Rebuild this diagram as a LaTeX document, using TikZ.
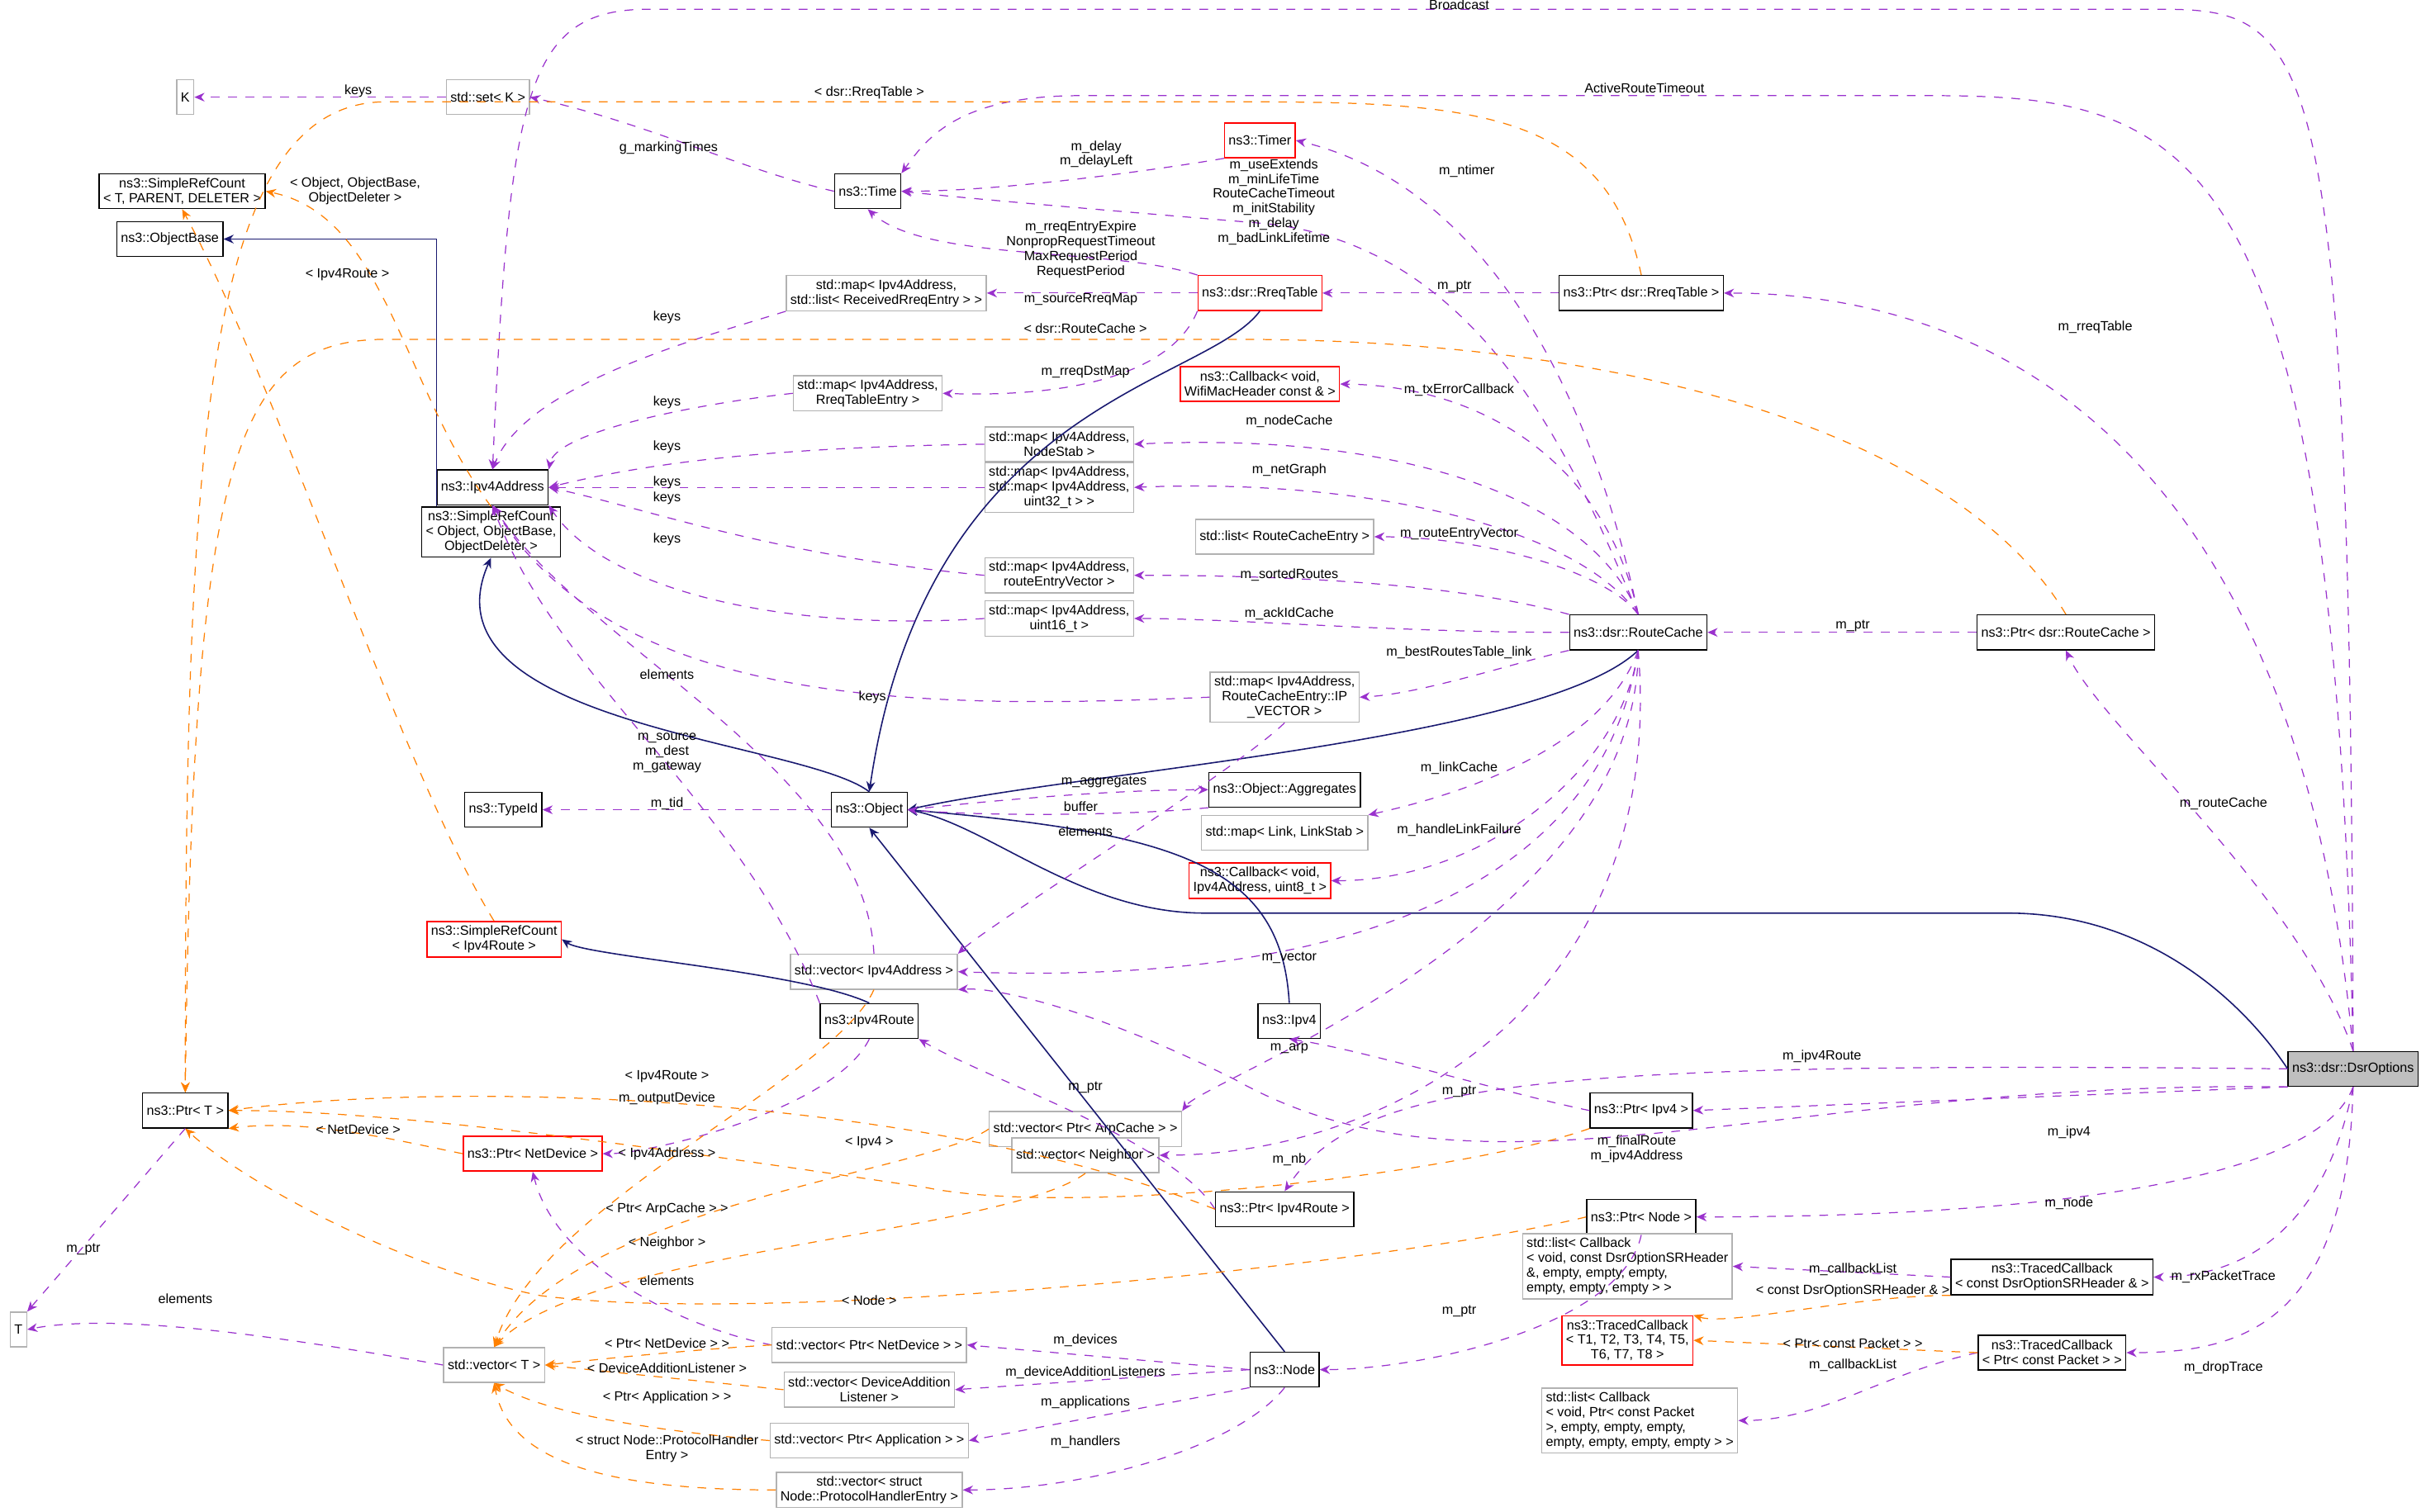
\documentclass[tikz,border=0pt]{standalone}
\usepackage{fontspec}
\setmainfont{Liberation Sans}
\usetikzlibrary{positioning,arrows.meta,calc}

\tikzset{
  cls/.style={draw=black, rectangle, inner sep=1.4pt, minimum height=12, align=center, fill=white, font=\fontsize{4.6}{5.1}\selectfont},
  gcls/.style={cls, draw=black!30},
  rcls/.style={cls, draw=red},
  lbl/.style={inner sep=0.5pt, align=center, font=\fontsize{4.6}{5.1}\selectfont},
  mem/.style={draw={rgb,255:red,154;green,50;blue,205}, dashed, line width=0.35pt, -{Stealth[length=3.5pt,width=3pt]}},
  inh/.style={draw={rgb,255:red,25;green,25;blue,112}, line width=0.45pt, -{Stealth[length=3.5pt,width=3pt]}},
  tpl/.style={draw=orange, dashed, line width=0.35pt, -{Stealth[length=3.5pt,width=3pt]}}
}

\begin{document}
\begin{tikzpicture}[x=0.01869cm,y=-0.01868cm]
  \useasboundingbox (0,0) rectangle (1568,980);
  % classes
  \node[cls, fill=black!25] (dso) at (1524,693) {ns3::dsr::DsrOptions};
  \node[gcls] (k) at (120,63) {K};
  \node[gcls] (setk) at (316,63) {std::set< K >};
  \node[cls] (srct) at (118,124) {ns3::SimpleRefCount\\< T, PARENT, DELETER >};
  \node[cls] (obase) at (110,155) {ns3::ObjectBase};
  \node[cls] (time) at (562,124) {ns3::Time};
  \node[rcls] (timer) at (816,91) {ns3::Timer};
  \node[rcls] (rreq) at (816,190) {ns3::dsr::RreqTable};
  \node[cls] (prq) at (1063,190) {ns3::Ptr< dsr::RreqTable >};
  \node[gcls] (mlist) at (574,190) {std::map< Ipv4Address,\\ std::list< ReceivedRreqEntry > >};
  \node[gcls] (mrte) at (562,255) {std::map< Ipv4Address,\\ RreqTableEntry >};
  \node[rcls] (cbw) at (816,249) {ns3::Callback< void,\\ WifiMacHeader const \& >};
  \node[cls] (ipa) at (319,316) {ns3::Ipv4Address};
  \node[gcls] (mns) at (686,288) {std::map< Ipv4Address,\\ NodeStab >};
  \node[gcls] (mmap) at (686,316) {std::map< Ipv4Address,\\ std::map< Ipv4Address,\\ uint32\_t > >};
  \node[cls] (sro) at (318,345) {ns3::SimpleRefCount\\< Object, ObjectBase,\\ ObjectDeleter >};
  \node[gcls] (lrce) at (832,348) {std::list< RouteCacheEntry >};
  \node[gcls] (mrev) at (686,373) {std::map< Ipv4Address,\\ routeEntryVector >};
  \node[gcls] (mu16) at (686,401) {std::map< Ipv4Address,\\ uint16\_t >};
  \node[cls] (rc) at (1061,410) {ns3::dsr::RouteCache};
  \node[cls] (prc) at (1338,410) {ns3::Ptr< dsr::RouteCache >};
  \node[gcls] (mipv) at (832,452) {std::map< Ipv4Address,\\ RouteCacheEntry::IP\\ \_VECTOR >};
  \node[cls] (tid) at (326,525) {ns3::TypeId};
  \node[cls] (obj) at (563,525) {ns3::Object};
  \node[cls] (agg) at (832,512) {ns3::Object::Aggregates};
  \node[gcls] (mlink) at (832,540) {std::map< Link, LinkStab >};
  \node[rcls] (cbi) at (816,571) {ns3::Callback< void,\\ Ipv4Address, uint8\_t >};
  \node[rcls] (srir) at (320,609) {ns3::SimpleRefCount\\< Ipv4Route >};
  \node[gcls] (vipa) at (566,630) {std::vector< Ipv4Address >};
  \node[cls] (ir) at (563,662) {ns3::Ipv4Route};
  \node[cls] (ipv4) at (835,662) {ns3::Ipv4};
  \node[cls] (ptrt) at (120,720) {ns3::Ptr< T >};
  \node[cls] (pipv4) at (1063,720) {ns3::Ptr< Ipv4 >};
  \node[rcls] (pnd) at (345,748) {ns3::Ptr< NetDevice >};
  \node[gcls] (varp) at (703,732) {std::vector< Ptr< ArpCache > >};
  \node[gcls] (vnb) at (703,749) {std::vector< Neighbor >};
  \node[cls] (pir) at (832,784) {ns3::Ptr< Ipv4Route >};
  \node[cls] (pnode) at (1063,789) {ns3::Ptr< Node >};
  \node[gcls, align=left] (lsr) at (1054,821) {std::list< Callback\\< void, const DsrOptionSRHeader\\ \&, empty, empty, empty,\\ empty, empty, empty > >};
  \node[cls] (tcsr) at (1329,828) {ns3::TracedCallback\\< const DsrOptionSRHeader \& >};
  \node[rcls] (tct) at (1054,869) {ns3::TracedCallback\\< T1, T2, T3, T4, T5,\\ T6, T7, T8 >};
  \node[cls] (tcpk) at (1329,877) {ns3::TracedCallback\\< Ptr< const Packet > >};
  \node[gcls, align=left] (lpk) at (1062,921) {std::list< Callback\\< void, Ptr< const Packet\\ >, empty, empty, empty,\\ empty, empty, empty, empty > >};
  \node[gcls] (t) at (12,862) {T};
  \node[gcls] (vt) at (320,885) {std::vector< T >};
  \node[gcls] (vnd) at (563,872) {std::vector< Ptr< NetDevice > >};
  \node[cls] (node) at (832,888) {ns3::Node};
  \node[gcls] (vdal) at (563,901) {std::vector< DeviceAddition\\ Listener >};
  \node[gcls] (vapp) at (563,934) {std::vector< Ptr< Application > >};
  \node[gcls] (vphe) at (563,966) {std::vector< struct\\ Node::ProtocolHandlerEntry >};

  % inheritance
  \draw[inh] (sro.north west) ++(10,0) |- (obase.east);
  \draw[inh] (obj.north) .. controls (520,480) and (270,470) .. (sro.south);
  \draw[inh] (rreq.south) .. controls (780,250) and (600,260) .. (obj.north);
  \draw[inh] (rc.south) .. controls (1000,480) and (700,500) .. (obj.east);
  \draw[inh] (ipv4.north) .. controls (830,560) and (760,540) .. (obj.east);
  \draw[inh] (node.north) -- (obj.south);
  \draw[inh] (ir.north) .. controls (520,630) and (380,620) .. (srir.east);
  \draw[inh] (dso.west) .. controls (1460,660) and (1400,592) .. (1300,592)
    -- (780,592) .. controls (700,592) and (640,535) .. (obj.east);

  % members of DsrOptions
  \draw[mem] (dso.north) .. controls (1522,30) and (1500,6) .. (1400,6)
    -- (420,6) .. controls (340,6) and (330,60) .. (ipa.north);
  \node[lbl] (lb1) at (945,3) {Broadcast};
  \draw[mem] (dso.north) .. controls (1512,90) and (1420,62) .. (1250,62)
    -- (700,62) .. controls (620,62) and (600,90) .. (time.north east);
  \node[lbl] (lb2) at (1065,57) {ActiveRouteTimeout};
  \draw[mem] (dso.north) .. controls (1490,300) and (1300,190) .. (prq.east);
  \node[lbl] (lb3) at (1357,212) {m\_rreqTable};
  \draw[mem] (dso.north) .. controls (1490,580) and (1360,470) .. (prc.south);
  \node[lbl] (lb4) at (1440,521) {m\_routeCache};
  \draw[mem] (dso.west) .. controls (1000,688) and (880,700) .. (pir.north);
  \node[lbl] (lb5) at (1180,685) {m\_ipv4Route};
  \draw[mem] (dso.south west) -- (pipv4.east);
  \node[lbl] (lb6) at (1340,734) {m\_ipv4};
  \draw[mem] (dso.south west) .. controls (1150,700) and (960,790) .. (800,700) .. controls (700,650) and (640,640) .. (vipa.south east);
  \node[lbl] (lb7) at (1060,745) {m\_finalRoute\\m\_ipv4Address};
  \draw[mem] (dso.south) .. controls (1500,770) and (1300,789) .. (pnode.east);
  \node[lbl] (lb8) at (1340,780) {m\_node};
  \draw[mem] (dso.south) .. controls (1505,800) and (1450,828) .. (tcsr.east);
  \node[lbl] (lb9) at (1440,828) {m\_rxPacketTrace};
  \draw[mem] (dso.south) .. controls (1520,860) and (1450,877) .. (tcpk.east);
  \node[lbl] (lb10) at (1440,887) {m\_dropTrace};

  % other members
  \draw[mem] (setk.west) -- (k.east);
  \node[lbl] (lb11) at (232,59) {keys};
  \draw[mem] (time.west) .. controls (480,110) and (420,80) .. (setk.east);
  \node[lbl] (lb12) at (433,96) {g\_markingTimes};
  \draw[mem] (timer.south west) .. controls (750,110) and (650,124) .. (time.east);
  \node[lbl] (lb13) at (710,100) {m\_delay\\m\_delayLeft};
  \draw[mem] (rreq.north west) .. controls (720,160) and (600,170) .. (time.south);
  \node[lbl] (lb14) at (700,162) {m\_rreqEntryExpire\\NonpropRequestTimeout\\MaxRequestPeriod\\RequestPeriod};
  \draw[mem] (rc.north) .. controls (1020,300) and (960,160) .. (820,145) .. controls (700,135) and (620,128) .. (time.east);
  \node[lbl] (lb15) at (825,131) {m\_useExtends\\m\_minLifeTime\\RouteCacheTimeout\\m\_initStability\\m\_delay\\m\_badLinkLifetime};
  \draw[mem] (rc.north) .. controls (1030,250) and (960,120) .. (timer.east);
  \node[lbl] (lb16) at (950,111) {m\_ntimer};
  \draw[mem] (prq.west) -- (rreq.east);
  \node[lbl] (lb17) at (942,186) {m\_ptr};
  \draw[mem] (rreq.west) -- (mlist.east);
  \node[lbl] (lb18) at (700,194) {m\_sourceRreqMap};
  \draw[mem] (rreq.south west) .. controls (760,240) and (700,258) .. (mrte.east);
  \node[lbl] (lb19) at (703,241) {m\_rreqDstMap};
  \draw[mem] (mlist.south west) .. controls (450,220) and (340,250) .. (ipa.north);
  \node[lbl] (lb20) at (432,206) {keys};
  \draw[mem] (mrte.west) .. controls (450,262) and (360,280) .. (ipa.north east);
  \node[lbl] (lb21) at (432,261) {keys};
  \draw[mem] (mns.west) .. controls (500,290) and (420,300) .. (ipa.east);
  \node[lbl] (lb22) at (432,290) {keys};
  \draw[mem] (mmap.west) -- (ipa.east);
  \node[lbl] (lb23) at (432,313) {keys};
  \draw[mem] (mrev.west) .. controls (500,360) and (420,330) .. (ipa.east);
  \node[lbl] (lb24) at (432,323) {keys};
  \draw[mem] (mu16.west) .. controls (500,410) and (390,380) .. (ipa.south east);
  \node[lbl] (lb25) at (432,350) {keys};
  \draw[mem] (mipv.west) .. controls (600,460) and (400,460) .. (ipa.south);
  \node[lbl] (lb26) at (565,452) {keys};
  \draw[mem] (rc.north) .. controls (1040,300) and (960,250) .. (cbw.east);
  \node[lbl] (lb27) at (945,253) {m\_txErrorCallback};
  \draw[mem] (rc.north) .. controls (1030,320) and (900,280) .. (mns.east);
  \node[lbl] (lb28) at (835,273) {m\_nodeCache};
  \draw[mem] (rc.north) .. controls (1020,340) and (880,310) .. (mmap.east);
  \node[lbl] (lb29) at (835,305) {m\_netGraph};
  \draw[mem] (rc.north) .. controls (1040,370) and (960,348) .. (lrce.east);
  \node[lbl] (lb30) at (945,346) {m\_routeEntryVector};
  \draw[mem] (rc.north west) .. controls (950,380) and (850,373) .. (mrev.east);
  \node[lbl] (lb31) at (835,373) {m\_sortedRoutes};
  \draw[mem] (rc.west) .. controls (900,410) and (800,401) .. (mu16.east);
  \node[lbl] (lb32) at (835,398) {m\_ackIdCache};
  \draw[mem] (rc.south west) .. controls (980,430) and (920,450) .. (mipv.east);
  \node[lbl] (lb33) at (945,423) {m\_bestRoutesTable\_link};
  \draw[mem] (rc.south) .. controls (1040,480) and (960,512) .. (mlink.north east);
  \node[lbl] (lb34) at (945,498) {m\_linkCache};
  \draw[mem] (rc.south) .. controls (1050,500) and (960,571) .. (cbi.east);
  \node[lbl] (lb35) at (945,538) {m\_handleLinkFailure};
  \draw[mem] (rc.south) .. controls (1040,560) and (900,640) .. (vipa.east);
  \node[lbl] (lb36) at (835,621) {m\_vector};
  \draw[mem] (rc.south) .. controls (1060,600) and (780,700) .. (varp.north east);
  \node[lbl] (lb37) at (835,680) {m\_arp};
  \draw[mem] (rc.south) .. controls (1080,650) and (900,749) .. (vnb.east);
  \node[lbl] (lb38) at (835,752) {m\_nb};
  \draw[mem] (prc.west) -- (rc.east);
  \node[lbl] (lb39) at (1200,406) {m\_ptr};
  \draw[mem] (mipv.south) .. controls (800,500) and (640,600) .. (vipa.north east);
  \node[lbl] (lb40) at (703,539) {elements};
  \draw[mem] (vipa.north) .. controls (560,500) and (380,420) .. (ipa.south);
  \node[lbl] (lb41) at (432,437) {elements};
  \draw[mem] (ir.north west) .. controls (480,520) and (360,440) .. (ipa.south);
  \node[lbl] (lb42) at (432,488) {m\_source\\m\_dest\\m\_gateway};
  \draw[mem] (ir.south) .. controls (540,720) and (420,748) .. (pnd.east);
  \node[lbl] (lb43) at (432,712) {m\_outputDevice};
  \draw[mem] (obj.west) -- (tid.east);
  \node[lbl] (lb44) at (432,521) {m\_tid};
  \draw[mem] (obj.east) .. controls (680,515) and (740,512) .. (agg.west);
  \node[lbl] (lb45) at (715,507) {m\_aggregates};
  \draw[mem] (agg.south west) .. controls (740,528) and (650,530) .. (obj.east);
  \node[lbl] (lb46) at (700,523) {buffer};
  \draw[mem] (pipv4.west) .. controls (980,710) and (880,680) .. (ipv4.south);
  \node[lbl] (lb47) at (945,708) {m\_ptr};
  \draw[mem] (pir.west) .. controls (760,740) and (640,700) .. (ir.south east);
  \node[lbl] (lb48) at (703,705) {m\_ptr};
  \draw[mem] (pnode.south) .. controls (1050,860) and (920,888) .. (node.east);
  \node[lbl] (lb49) at (945,850) {m\_ptr};
  \draw[mem] (node.west) -- (vnd.east);
  \node[lbl] (lb50) at (703,869) {m\_devices};
  \draw[mem] (node.west) -- (vdal.east);
  \node[lbl] (lb51) at (703,890) {m\_deviceAdditionListeners};
  \draw[mem] (node.south west) -- (vapp.east);
  \node[lbl] (lb52) at (703,909) {m\_applications};
  \draw[mem] (node.south) .. controls (800,940) and (700,966) .. (vphe.east);
  \node[lbl] (lb53) at (703,935) {m\_handlers};
  \draw[mem] (tcsr.west) -- (lsr.east);
  \node[lbl] (lb54) at (1200,823) {m\_callbackList};
  \draw[mem] (tcpk.west) .. controls (1220,890) and (1180,921) .. (lpk.east);
  \node[lbl] (lb55) at (1200,885) {m\_callbackList};
  \draw[mem] (ptrt.south) -- (t.north east);
  \node[lbl] (lb56) at (54,810) {m\_ptr};
  \draw[mem] (vt.west) .. controls (200,870) and (80,850) .. (t.east);
  \node[lbl] (lb57) at (120,842) {elements};
  \draw[mem] (vnd.west) .. controls (440,860) and (360,820) .. (pnd.south);
  \node[lbl] (lb58) at (432,830) {elements};

  % templates
  \draw[tpl] (sro.north) .. controls (260,250) and (250,140) .. (srct.east);
  \node[lbl] (lb59) at (230,124) {< Object, ObjectBase,\\ ObjectDeleter >};
  \draw[tpl] (srir.north) .. controls (260,500) and (180,250) .. (srct.south);
  \node[lbl] (lb60) at (225,178) {< Ipv4Route >};
  \draw[tpl] (prq.north) .. controls (1040,70) and (950,66) .. (800,66) -- (250,66) .. controls (130,66) and (120,300) .. (ptrt.north);
  \node[lbl] (lb61) at (563,60) {< dsr::RreqTable >};
  \draw[tpl] (prc.north) .. controls (1280,300) and (1100,220) .. (800,220) -- (250,220) .. controls (150,220) and (125,300) .. (ptrt.north);
  \node[lbl] (lb62) at (703,213) {< dsr::RouteCache >};
  \draw[tpl] (pir.west) .. controls (600,710) and (300,700) .. (ptrt.east);
  \node[lbl] (lb63) at (432,698) {< Ipv4Route >};
  \draw[tpl] (pnd.west) .. controls (260,740) and (200,725) .. (ptrt.south east);
  \node[lbl] (lb64) at (232,732) {< NetDevice >};
  \draw[tpl] (pipv4.south west) .. controls (950,760) and (700,790) .. (600,770) .. controls (400,740) and (250,720) .. (ptrt.east);
  \node[lbl] (lb65) at (563,741) {< Ipv4 >};
  \draw[tpl] (pnode.west) .. controls (900,820) and (500,860) .. (350,840) .. controls (250,820) and (150,760) .. (ptrt.south);
  \node[lbl] (lb66) at (563,843) {< Node >};
  \draw[tpl] (vipa.south) .. controls (540,700) and (350,780) .. (vt.north);
  \node[lbl] (lb67) at (432,748) {< Ipv4Address >};
  \draw[tpl] (varp.west) .. controls (600,760) and (380,780) .. (vt.north);
  \node[lbl] (lb68) at (432,784) {< Ptr< ArpCache > >};
  \draw[tpl] (vnb.south) .. controls (650,800) and (380,810) .. (vt.north);
  \node[lbl] (lb69) at (432,806) {< Neighbor >};
  \draw[tpl] (vnd.west) .. controls (450,875) and (400,880) .. (vt.east);
  \node[lbl] (lb70) at (432,871) {< Ptr< NetDevice > >};
  \draw[tpl] (vdal.west) .. controls (450,895) and (400,890) .. (vt.east);
  \node[lbl] (lb71) at (432,887) {< DeviceAdditionListener >};
  \draw[tpl] (vapp.west) .. controls (450,930) and (360,920) .. (vt.south);
  \node[lbl] (lb72) at (432,906) {< Ptr< Application > >};
  \draw[tpl] (vphe.west) .. controls (400,966) and (330,950) .. (vt.south);
  \node[lbl] (lb73) at (432,939) {< struct Node::ProtocolHandler\\ Entry >};
  \draw[tpl] (tcsr.south west) .. controls (1200,840) and (1120,860) .. (tct.north east);
  \node[lbl] (lb74) at (1200,837) {< const DsrOptionSRHeader \& >};
  \draw[tpl] (tcpk.west) -- (tct.east);
  \node[lbl] (lb75) at (1200,871) {< Ptr< const Packet > >};
\end{tikzpicture}
\end{document}
